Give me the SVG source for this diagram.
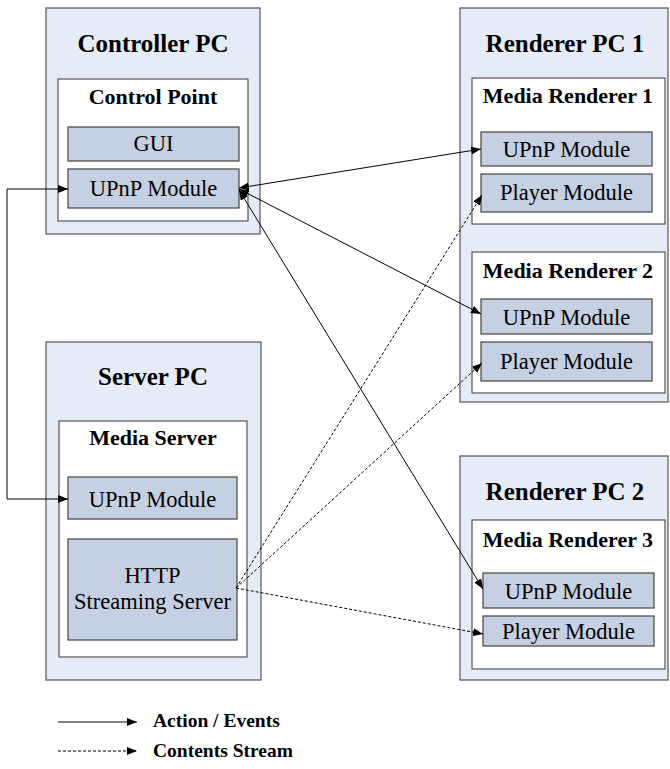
<svg xmlns="http://www.w3.org/2000/svg" width="670" height="769" viewBox="0 0 670 769">
<style>
.pc{fill:#E6ECF7;stroke:#555;stroke-width:1.2}
.in{fill:#fff;stroke:#555;stroke-width:1.2}
.mod{fill:#C5D0E2;stroke:#444;stroke-width:1.2}
text{font-family:"Liberation Serif","Times New Roman",serif;fill:#000;text-anchor:middle}
.t1{font-size:25px;font-weight:bold}
.t2{font-size:22px;font-weight:bold}
.t3{font-size:22.5px}
.lg{font-size:19.5px;font-weight:bold;text-anchor:start}
.s{fill:none;stroke:#000;stroke-width:1}
.d{fill:none;stroke:#000;stroke-width:1;stroke-dasharray:3,2}
</style>
<defs>
<marker id="ah" viewBox="0 0 10 8" refX="10" refY="4" markerWidth="10" markerHeight="8" markerUnits="userSpaceOnUse" orient="auto-start-reverse">
<path d="M0,0 L10,4 L0,8 z" fill="#000"/>
</marker>
</defs>
<g id="controller-pc">
<rect class="pc" x="46" y="8" width="214" height="226"/>
<text class="t1" x="153" y="52">Controller PC</text>
<rect class="in" x="58" y="79" width="190" height="142"/>
<text class="t2" x="153" y="104">Control Point</text>
<rect class="mod" x="68" y="127" width="171" height="34"/>
<text class="t3" x="153.5" y="151">GUI</text>
<rect class="mod" x="68" y="169" width="171" height="39"/>
<text class="t3" x="153.5" y="196">UPnP Module</text>
</g>
<g id="server-pc">
<rect class="pc" x="46" y="342" width="215" height="338"/>
<text class="t1" x="153" y="385">Server PC</text>
<rect class="in" x="59" y="421" width="188" height="236"/>
<text class="t2" x="153" y="445">Media Server</text>
<rect class="mod" x="68" y="477" width="169" height="42"/>
<text class="t3" x="152.5" y="507">UPnP Module</text>
<rect class="mod" x="68" y="539" width="169" height="101"/>
<text class="t3" x="152.5" y="583">HTTP</text>
<text class="t3" x="152.5" y="609">Streaming Server</text>
</g>
<g id="renderer-pc-1">
<rect class="pc" x="460" y="8" width="208" height="394"/>
<text class="t1" x="565" y="52">Renderer PC 1</text>
<rect class="in" x="472" y="78" width="193" height="146"/>
<text class="t2" x="568" y="103">Media Renderer 1</text>
<rect class="mod" x="481" y="132" width="171" height="34"/>
<text class="t3" x="566.5" y="157">UPnP Module</text>
<rect class="mod" x="481" y="174" width="171" height="38"/>
<text class="t3" x="566.5" y="200">Player Module</text>
<rect class="in" x="472" y="252" width="193" height="141"/>
<text class="t2" x="568" y="278">Media Renderer 2</text>
<rect class="mod" x="481" y="299" width="171" height="35"/>
<text class="t3" x="566.5" y="325">UPnP Module</text>
<rect class="mod" x="481" y="342" width="171" height="39"/>
<text class="t3" x="566.5" y="369">Player Module</text>
</g>
<g id="renderer-pc-2">
<rect class="pc" x="460" y="456" width="208" height="224"/>
<text class="t1" x="565" y="500">Renderer PC 2</text>
<rect class="in" x="472" y="520" width="193" height="149"/>
<text class="t2" x="568" y="547">Media Renderer 3</text>
<rect class="mod" x="483" y="573" width="171" height="35"/>
<text class="t3" x="568.5" y="599">UPnP Module</text>
<rect class="mod" x="483" y="616" width="171" height="30"/>
<text class="t3" x="568.5" y="639">Player Module</text>
</g>
<g id="connectors">
<path class="s" d="M68,189 H7 V499 H68" marker-start="url(#ah)" marker-end="url(#ah)"/>
<line class="s" x1="239" y1="188" x2="481" y2="149" marker-start="url(#ah)" marker-end="url(#ah)"/>
<line class="s" x1="239" y1="189" x2="481" y2="314" marker-start="url(#ah)" marker-end="url(#ah)"/>
<line class="s" x1="239" y1="190" x2="483" y2="589" marker-start="url(#ah)" marker-end="url(#ah)"/>
<line class="d" x1="236" y1="588" x2="482" y2="195" marker-end="url(#ah)"/>
<line class="d" x1="236" y1="588" x2="482" y2="363" marker-end="url(#ah)"/>
<line class="d" x1="236" y1="588" x2="483" y2="634" marker-end="url(#ah)"/>
</g>
<g id="legend">
<line class="s" x1="58" y1="722" x2="137" y2="722" marker-end="url(#ah)"/>
<text class="lg" x="153" y="727">Action / Events</text>
<line class="d" x1="58" y1="751" x2="137" y2="751" marker-end="url(#ah)"/>
<text class="lg" x="153" y="757">Contents Stream</text>
</g>
</svg>
